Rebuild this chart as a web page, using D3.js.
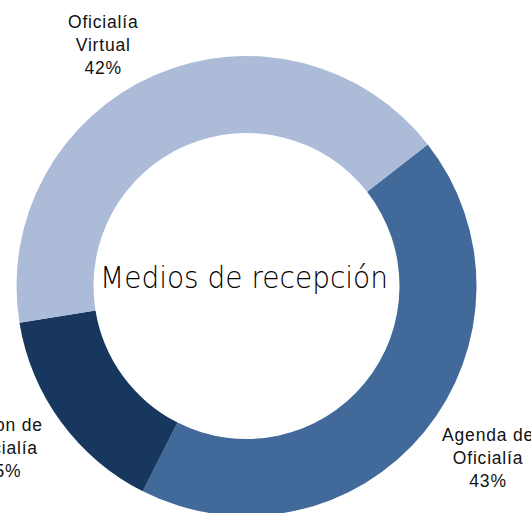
<html>
<head>
  <meta charset="utf-8">
  <title>Medios de recepción</title>
  <script src="https://d3js.org/d3.v7.min.js"></script>
  <style>
    body { margin: 0; background: #fff; }
  </style>
</head>
<body>
<script>
// data
var categories = ["Agenda de Oficialía", "Buzon de Oficialía", "Oficialía Virtual"];
var values = [43, 15, 42];
var labelLines = [["Agenda de", "Oficialía"], ["Buzon de", "Oficialía"], ["Oficialía", "Virtual"]];
var colors = ["#41699a", "#17375e", "#acbbd8"];
var title = "Medios de recepción";

var width = 531, height = 513;
var cx = 246.5, cy = 286;
var outerR = 230, innerR = 153;

var svg = d3.select("body").append("svg")
  .attr("width", width).attr("height", height);

var g = svg.append("g")
  .attr("transform", "translate(" + cx + "," + cy + ")");

var total = d3.sum(values);
var data = categories.map(function(c, i){ return {name: c, value: values[i], lines: labelLines[i], color: colors[i]}; });

// pie generator (rotated like the excel chart)
var start = 52 * Math.PI / 180;
var pie = d3.pie()
  .sort(null)
  .value(function(d){ return d.value; })
  .startAngle(start)
  .endAngle(start + 2 * Math.PI);

var arc = d3.arc().innerRadius(innerR).outerRadius(outerR);

g.selectAll(".slice")
  .data(pie(data))
  .enter().append("path")
  .attr("class", "slice")
  .attr("d", arc)
  .attr("fill", function(d){ return d.data.color; });

// labels outside the ring
var lineH = 23;
pie(data).forEach(function(d){
  var a = (d.startAngle + d.endAngle) / 2;
  var ax = Math.sin(a) * (outerR + 5);
  var ay = -Math.cos(a) * (outerR + 5);
  var lines = d.data.lines.concat([Math.round(d.data.value / total * 100) + "%"]);

  var t = g.append("text")
    .attr("text-anchor", "middle")
    .style("font-family", "'Liberation Sans', Arial, sans-serif")
    .style("font-size", "17.5px")
    .style("letter-spacing", "0.8px")
    .attr("fill", "#111");
  lines.forEach(function(l, i){
    t.append("tspan").attr("x", 0).attr("y", i * lineH).text(l);
  });
  var w = t.node().getBBox().width;
  var lx = ax + (ax < 0 ? -1 : 1) * (w / 2 + 14);
  var ly = ay + (ay < 0 ? -1 : 1) * 23;
  // center the block vertically on ly
  t.attr("transform", "translate(" + lx + "," + (ly - lineH + (ay < 0 ? 3 : 6)) + ")");
});

// center title
g.append("text")
  .attr("x", -2.5)
  .attr("y", 2)
  .attr("text-anchor", "middle")
  .attr("textLength", 288)
  .attr("lengthAdjust", "spacingAndGlyphs")
  .style("font-family", "'DejaVu Sans', sans-serif")
  .style("font-weight", 200)
  .style("font-size", "30px")
  .attr("fill", "#000")
  .text(title);
</script>
</body>
</html>
